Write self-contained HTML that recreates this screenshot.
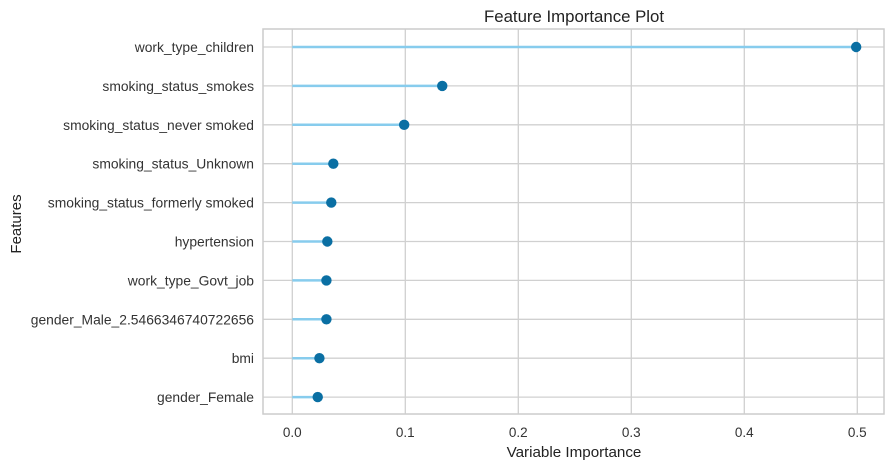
<!DOCTYPE html>
<html><head><meta charset="utf-8"><style>
body{margin:0;background:#fff;font-family:"Liberation Sans",sans-serif;}
</style></head><body>
<svg id="chart" width="893" height="468" font-family="Liberation Sans, sans-serif">
<text x="574" y="22" text-anchor="middle" font-size="16.8" fill="#222">Feature Importance Plot</text>
<text x="574" y="457" text-anchor="middle" font-size="15.2" fill="#222">Variable Importance</text>
<text transform="translate(21,224) rotate(-90)" text-anchor="middle" font-size="15" fill="#222">Features</text>
<g id="grid"></g><g id="marks"></g><g id="labels"></g>
<rect x="263" y="29" width="621" height="385" fill="none" stroke="#cccccc" stroke-width="1.5"/>
</svg>
<script>
const features=["work_type_children","smoking_status_smokes","smoking_status_never smoked","smoking_status_Unknown","smoking_status_formerly smoked","hypertension","work_type_Govt_job","gender_Male_2.5466346740722656","bmi","gender_Female"];
const importance=[0.499,0.1327,0.099,0.0363,0.0345,0.031,0.0302,0.0302,0.024,0.0225];
const xTicks=[0,0.1,0.2,0.3,0.4,0.5];
const xTickLabels=["0.0","0.1","0.2","0.3","0.4","0.5"];
const NS="http://www.w3.org/2000/svg";
const xs=v=>292.3+v*1130;
const ys=i=>47+i*38.9;
function mk(tag,attrs,parent){const e=document.createElementNS(NS,tag);for(const k in attrs)e.setAttribute(k,attrs[k]);document.getElementById(parent).appendChild(e);return e;}
xTicks.forEach((t,i)=>{
 const g=mk('line',{x1:xs(t),x2:xs(t),y1:29,y2:414,stroke:'#d0d0d0','stroke-width':1.3},'grid');
 
 
 const l=mk('text',{x:xs(t),y:437,'text-anchor':'middle','font-size':13.5,fill:'#333'},'labels');
 l.textContent=xTickLabels[i];
 
 
});
features.forEach((f,i)=>{
 const y=ys(i);
 const g=mk('line',{x1:263,x2:884,y1:y,y2:y,stroke:'#d0d0d0','stroke-width':1.3},'grid');
 
 
 const s=mk('line',{x1:xs(0),x2:xs(importance[i]),y1:y,y2:y,stroke:'#87cced','stroke-width':2.5},'marks');
 
 
 const c=mk('circle',{cx:xs(importance[i]),cy:y,r:5.2,fill:'#0a6fa3'},'marks');
 
 
 const l=mk('text',{x:254,y:y+5,'text-anchor':'end','font-size':13.85,fill:'#333'},'labels');
 l.textContent=f;
 
 
});
</script>
</body></html>
